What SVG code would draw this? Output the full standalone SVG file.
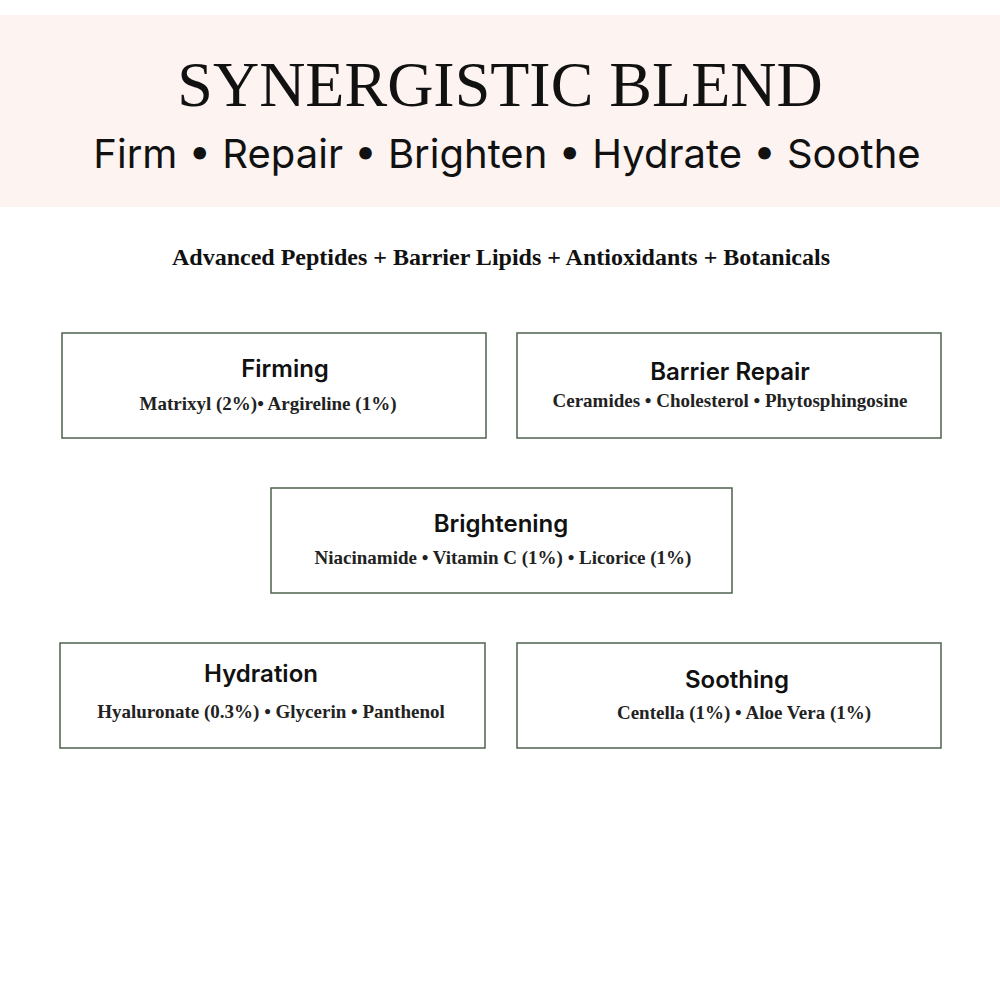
<svg xmlns="http://www.w3.org/2000/svg" width="1000" height="1000" viewBox="0 0 1000 1000">
<style>
.box{fill:#fff;stroke:#4f624f;stroke-width:1.5}
.t{font-family:Inter,"Noto Sans",sans-serif;font-weight:600;font-size:24px;fill:#111;text-anchor:middle}
.s{font-family:"Liberation Serif",serif;font-weight:bold;font-size:19px;fill:#222;text-anchor:middle}
</style>
<rect width="1000" height="1000" fill="#fff"/>
<rect x="0" y="15" width="1000" height="192" fill="#fdf3f1"/>
<text x="500" y="106" font-family="Liberation Serif,serif" font-size="64" fill="#111" text-anchor="middle">SYNERGISTIC BLEND</text>
<text x="507" y="168" font-family="Inter,'Noto Sans',sans-serif" font-size="40" fill="#111" text-anchor="middle">Firm • Repair • Brighten • Hydrate • Soothe</text>
<text x="501" y="265" font-family="Liberation Serif,serif" font-weight="bold" font-size="24" fill="#111" text-anchor="middle">Advanced Peptides + Barrier Lipids + Antioxidants + Botanicals</text>
<g id="firming"><rect class="box" x="62" y="333" width="424" height="105"/><text class="t" x="285" y="377">Firming</text><text class="s" x="268" y="410">Matrixyl (2%)• Argireline (1%)</text></g>
<g id="barrier"><rect class="box" x="517" y="333" width="424" height="105"/><text class="t" x="730" y="380">Barrier Repair</text><text class="s" x="730" y="407">Ceramides • Cholesterol • Phytosphingosine</text></g>
<g id="brightening"><rect class="box" x="271" y="488" width="461" height="105"/><text class="t" x="501" y="532">Brightening</text><text class="s" x="503" y="564">Niacinamide • Vitamin C (1%) • Licorice (1%)</text></g>
<g id="hydration"><rect class="box" x="60" y="643" width="425" height="105"/><text class="t" x="261" y="682">Hydration</text><text class="s" x="271" y="718">Hyaluronate (0.3%) • Glycerin • Panthenol</text></g>
<g id="soothing"><rect class="box" x="517" y="643" width="424" height="105"/><text class="t" x="737" y="688">Soothing</text><text class="s" x="744" y="719">Centella (1%) • Aloe Vera (1%)</text></g>
<g id="connectors"/>
</svg>
